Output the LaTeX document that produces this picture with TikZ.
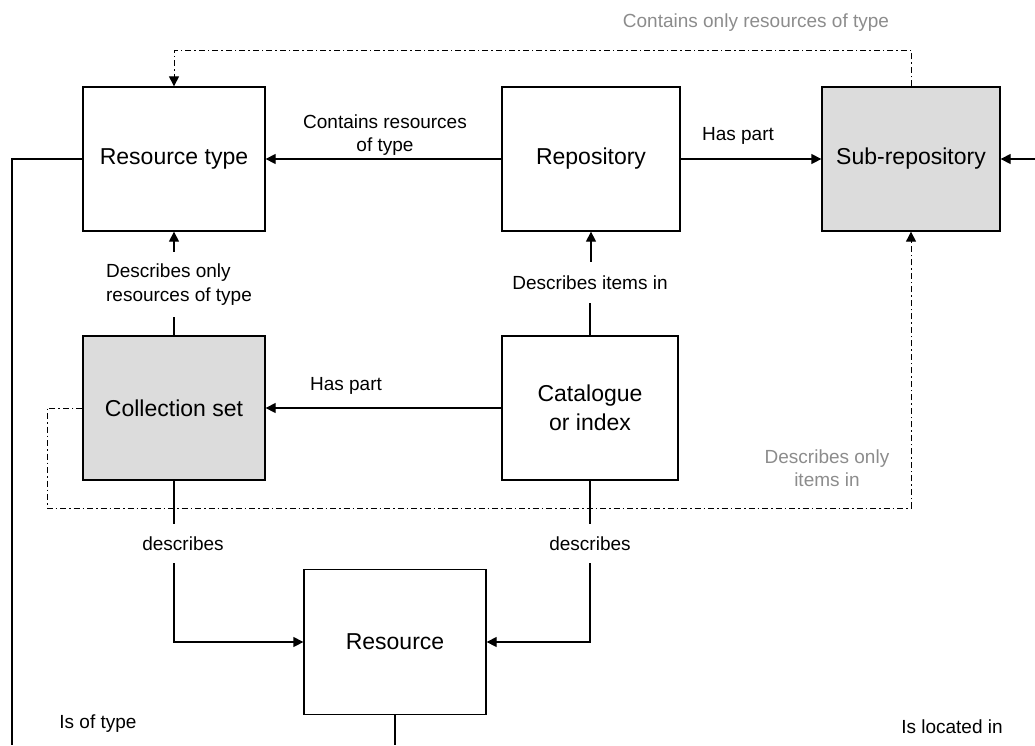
\documentclass[tikz,border=0pt]{standalone}
\usepackage{fontspec}
\setmainfont{Liberation Sans}
\usetikzlibrary{arrows.meta}
\definecolor{boxgray}{HTML}{DCDCDC}
\definecolor{labgray}{HTML}{8C8C8C}
\begin{document}
\begin{tikzpicture}[x=1pt,y=-1pt,
  entity/.style={draw=black,line width=1.3pt,rectangle,inner sep=0pt,
    minimum height=144pt,align=center,font=\fontsize{23}{29}\selectfont},
  subentity/.style={entity,fill=boxgray},
  rel/.style={inner sep=0pt,font=\fontsize{19}{23.5}\selectfont},
  faintrel/.style={rel,text=labgray},
  link/.style={line width=1.3pt,-{Triangle[length=10pt,width=10pt]}},
  plain/.style={line width=1.3pt},
  optlink/.style={line width=1pt,dash pattern=on 6pt off 3pt on 1.5pt off 3pt,
    -{Triangle[length=10pt,width=10pt]}}]
\useasboundingbox (0,0) rectangle (1035,745);

% entities
\node[entity,minimum width=182pt] (rt) at (174,159) {Resource type};
\node[entity,minimum width=178pt] (repo) at (591,159) {Repository};
\node[subentity,minimum width=178pt] (sub) at (911,159) {Sub-repository};
\node[subentity,minimum width=182pt] (coll) at (174,408) {Collection set};
\node[entity,minimum width=176pt] (cat) at (590,408) {Catalogue\\or index};
\node[entity,minimum width=182pt,minimum height=145pt] (res) at (395,642) {Resource};

% loose ends
\coordinate (rin) at (1035,159);
\coordinate (tbot) at (12,745);
\coordinate (rbot) at (395,745);
\coordinate (dl) at (47,508);

% relation labels
\node[rel] (lcont) at (385,135) [align=center] {Contains resources\\of type};
\node[rel] (lhas1) at (738,136) {Has part};
\node[rel] (lhas2) at (346,386) {Has part};
\node[rel,align=left,minimum height=65pt] (ldo) at (179,284.5) {Describes only\\resources of type};
\node[rel,minimum height=41pt] (ldi) at (590,282.5) {Describes items in};
\node[rel,minimum height=39pt] (ld1) at (183,543.5) {describes};
\node[rel,minimum height=39pt] (ld2) at (590,543.5) {describes};
\node[faintrel] (lcor) at (756,23) {Contains only resources of type};
\node[faintrel,align=center] (ldoi) at (827,468) {Describes only\\items in};
\node[rel] (ltype) at (98,724) {Is of type};
\node[rel] (lloc) at (952,727) {Is located in};

% solid connectors
\draw[link] (repo.west) -- (rt.east);
\draw[link] (repo.east) -- (sub.west);
\draw[link] (rin) -- (sub.east);
\draw[link] (cat.west) -- (coll.east);
\draw[plain] (rt.west) -| (tbot);
\draw[plain] (coll.north) -- (coll.north |- ldo.south);
\draw[link] (rt.south |- ldo.north) -- (rt.south);
\draw[plain] (cat.north) -- (cat.north |- ldi.south);
\draw[link] (repo.south |- ldi.north) -- (repo.south);
\draw[plain] (coll.south) -- (coll.south |- ld1.north);
\draw[link] (coll.south |- ld1.south) |- (res.west);
\draw[plain] (cat.south) -- (cat.south |- ld2.north);
\draw[link] (cat.south |- ld2.south) |- (res.east);
\draw[plain] (res.south) -- (rbot);

% dash-dotted constraints
\draw[optlink] (sub.north) -- ++(0,-36) -| (rt.north);
\draw[optlink] (coll.west) -| (dl) -| (sub.south);
\end{tikzpicture}
\end{document}
